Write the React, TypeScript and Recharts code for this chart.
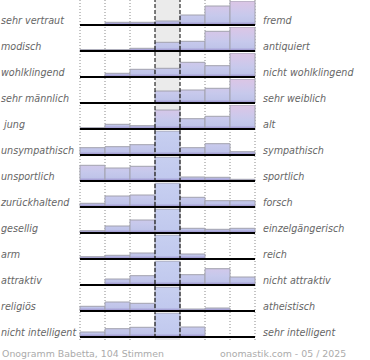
import React from 'react';
import {
  Bar,
  BarChart,
  Cell,
  ComposedChart,
  ReferenceArea,
  ReferenceLine,
  XAxis,
  YAxis
} from 'recharts';

// seven answer columns, 4 = neutral
const columns = ['1', '2', '3', '4', '5', '6', '7'];

const leftLabels = [
  'sehr vertraut', 'modisch', 'wohlklingend', 'sehr männlich', ' jung',
  'unsympathisch', 'unsportlich', 'zurückhaltend', 'gesellig', 'arm',
  'attraktiv', 'religiös', 'nicht intelligent'
];
const rightLabels = [
  'fremd', 'antiquiert', 'nicht wohlklingend', 'sehr weiblich', 'alt',
  'sympathisch', 'sportlich', 'forsch', 'einzelgängerisch', 'reich',
  'nicht attraktiv', 'atheistisch', 'sehr intelligent'
];

// relative bar heights per row (row maximum = 24)
const vertraut = [0, 2.7, 2.7, 4, 10, 19, 24];
const modisch = [1.3, 1.3, 2.7, 8.7, 9.7, 19.7, 24];
const klang = [0, 3.7, 7.7, 8.7, 14.7, 11.3, 24];
const geschlecht = [0, 0, 0, 12, 13, 14.7, 24];
const alter = [1.3, 4.7, 3.3, 19, 10.3, 12.7, 24];
const sympathie = [7.3, 8.3, 10.3, 24, 7.3, 11.3, 3.3];
const sport = [15.7, 13, 14.7, 24, 4, 3.7, 1.7];
const forsch = [3.7, 11, 12, 24, 9.7, 6.3, 6.3];
const gesellig = [2.3, 7, 13, 24, 4.7, 3.7, 4.7];
const reich = [2.3, 3.7, 6, 24, 5, 0, 0];
const attraktiv = [0, 6, 9.3, 24, 10.3, 16.3, 8];
const religion = [4.7, 9, 7.7, 24, 2, 3, 0];
const intelligenz = [5, 8.3, 9.7, 24, 10, 0, 0];

const rows = [
  vertraut, modisch, klang, geschlecht, alter, sympathie, sport,
  forsch, gesellig, reich, attraktiv, religion, intelligenz
];

const ROW_H = 26;
const margin = { top: 0, right: 115, left: 80, bottom: 0 };
const gridData = columns.map((c) => ({ c, z: 0 }));

const labelStyle: React.CSSProperties = {
  position: 'absolute',
  fontSize: '9.6px',
  lineHeight: '10px',
  fontStyle: 'italic',
  color: '#666666',
  whiteSpace: 'pre'
};

const Row: React.FC<{ values: number[]; idx: number }> = ({ values, idx }) => {
  const data = columns.map((c, i) => ({ c, v: values[i] }));
  const max = Math.max(...values);
  return (
    <BarChart
      width={370}
      height={ROW_H}
      data={data}
      margin={{ top: 0, right: 115, left: 80, bottom: 2 }}
      barCategoryGap={0}
      barGap={0}
    >
      <defs>
        <linearGradient id={`pink-${idx}`} gradientUnits="userSpaceOnUse" x1="0" y1="0" x2="0" y2="24">
          <stop offset="0" stopColor="#dcc5e5" />
          <stop offset="0.35" stopColor="#d0c8ea" />
          <stop offset="0.6" stopColor="#c7c9ec" />
          <stop offset="0.86" stopColor="#bfc4e9" />
          <stop offset="0.93" stopColor="#aaa5d8" />
          <stop offset="1" stopColor="#8f87c4" />
        </linearGradient>
        <linearGradient id={`blue-${idx}`} gradientUnits="userSpaceOnUse" x1="0" y1="0" x2="0" y2="24">
          <stop offset="0" stopColor="#c7cff0" />
          <stop offset="0.86" stopColor="#c1c9ee" />
          <stop offset="0.93" stopColor="#aaa8da" />
          <stop offset="1" stopColor="#8f87c4" />
        </linearGradient>
      </defs>
      <XAxis dataKey="c" hide />
      <YAxis hide domain={[0, max]} />
      <Bar dataKey="v" stroke="#a2a2ae" strokeWidth={1} isAnimationActive={false}>
        {data.map((d, i) => (
          <Cell
            key={d.c}
            fill={idx >= 5 && i === 3 ? `url(#blue-${idx})` : `url(#pink-${idx})`}
          />
        ))}
      </Bar>
      <ReferenceLine y={0} stroke="#000" strokeWidth={2} />
    </BarChart>
  );
};

export default function App() {
  return (
    <div
      style={{
        position: 'absolute',
        left: 0,
        top: 0,
        width: 370,
        height: 360,
        background: '#fff',
        fontFamily: '"DejaVu Sans", sans-serif'
      }}
    >
      <div style={{ position: 'absolute', left: 0, top: 0 }}>
        <ComposedChart width={370} height={340} data={gridData} margin={margin}>
          <XAxis dataKey="c" hide />
          <YAxis hide domain={[0, 1]} />
          <ReferenceArea x1="4" x2="4" fill="#ebebeb" fillOpacity={1} stroke="none" />
          {['1', '2', '3', '6', '7'].map((c) => (
            <ReferenceLine key={c} x={c} position="start" stroke="#8a8a8a" strokeDasharray="1 2" />
          ))}
          <ReferenceLine x="7" position="end" stroke="#8a8a8a" strokeDasharray="1 2" />
          <Bar dataKey="z" isAnimationActive={false} />
        </ComposedChart>
      </div>

      {rows.map((values, k) => (
        <div key={k} style={{ position: 'absolute', left: 0, top: ROW_H * k + 1 }}>
          <Row values={values} idx={k} />
        </div>
      ))}

      <div style={{ position: 'absolute', left: 0, top: 0, pointerEvents: 'none' }}>
        <ComposedChart width={370} height={338} data={gridData} margin={margin}>
          <XAxis dataKey="c" hide />
          <YAxis hide domain={[0, 1]} />
          <ReferenceLine x="4" position="start" stroke="#000" strokeDasharray="4 2" />
          <ReferenceLine x="4" position="end" stroke="#000" strokeDasharray="4 2" />
          <Bar dataKey="z" isAnimationActive={false} />
        </ComposedChart>
      </div>

      {leftLabels.map((t, k) => (
        <div key={`l${k}`} style={{ ...labelStyle, left: 1, top: ROW_H * k + 15.7 }}>
          {t}
        </div>
      ))}
      {rightLabels.map((t, k) => (
        <div key={`r${k}`} style={{ ...labelStyle, left: 263, top: ROW_H * k + 15.7 }}>
          {t}
        </div>
      ))}

      <div
        style={{
          position: 'absolute',
          left: 2,
          top: 348.5,
          fontSize: '9.4px',
          lineHeight: '10px',
          color: '#ababab',
          whiteSpace: 'pre'
        }}
      >
        Onogramm Babetta, 104 Stimmen
      </div>
      <div
        style={{
          position: 'absolute',
          left: 220,
          top: 348.5,
          fontSize: '9.4px',
          lineHeight: '10px',
          color: '#ababab',
          whiteSpace: 'pre'
        }}
      >
        onomastik.com - 05 / 2025
      </div>
    </div>
  );
}
